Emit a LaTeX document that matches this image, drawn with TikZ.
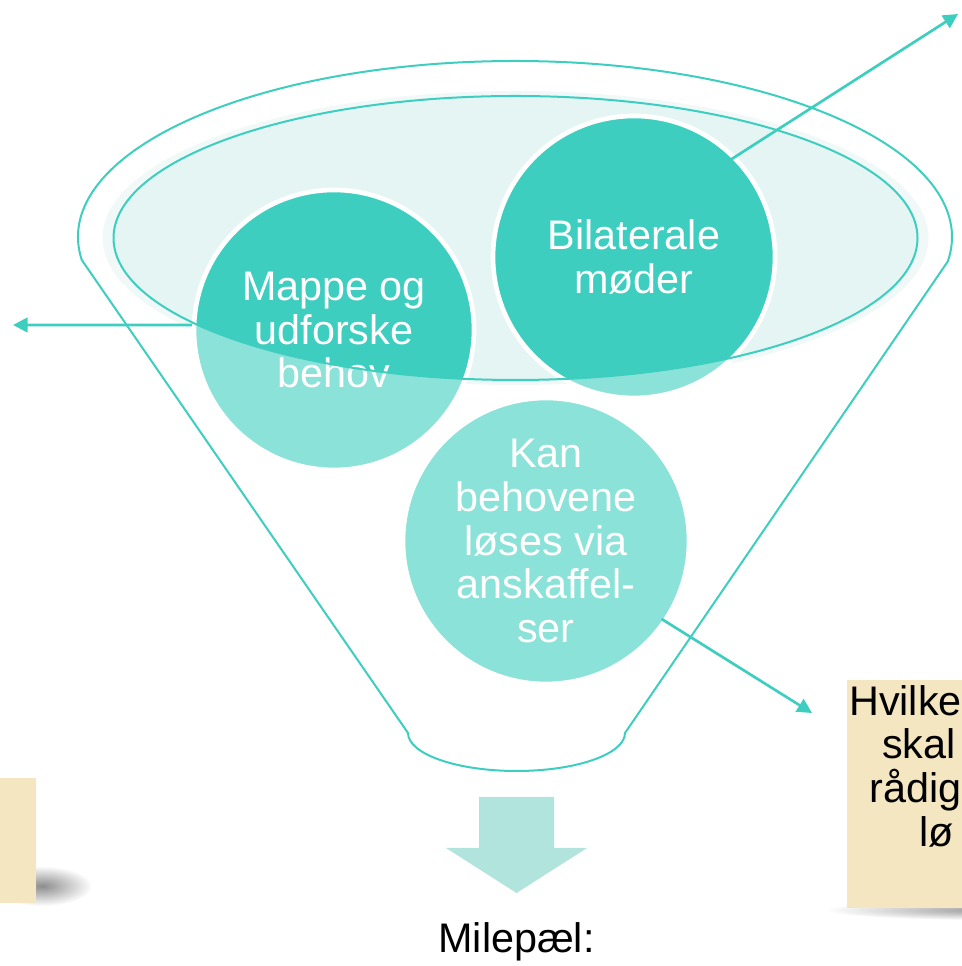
\documentclass[tikz,border=0pt]{standalone}
\usepackage{fontspec}
\setmainfont{Liberation Sans}
\usetikzlibrary{positioning}
\usetikzlibrary{calc}
\usetikzlibrary{arrows.meta}

\definecolor{tealdark}{RGB}{62,206,191}
\definecolor{teallight}{RGB}{139,226,216}
\definecolor{rimfill}{RGB}{228,245,243}
\definecolor{rimglow}{RGB}{240,249,248}
\definecolor{milefill}{RGB}{176,228,221}
\definecolor{notefill}{RGB}{243,230,192}

\begin{document}
\begin{tikzpicture}[x=0.75pt, y=0.75pt,
	bubble/.style={circle, fill=teallight, draw=white, line width=3.5pt, minimum size=210pt, inner sep=0pt, text=white, align=center, font=\fontsize{31}{32.8}\selectfont, path picture={\fill[tealdark] (eye) ellipse [x radius=402, y radius=142];}},
	link/.style={draw=tealdark, line width=2pt, -{Triangle[length=11pt, width=11pt]}},
	rim/.style={draw=tealdark, line width=1.5pt},
	note/.style={rectangle, fill=notefill, inner sep=0pt},
	notetext/.style={font=\fontsize{31}{32.8}\selectfont, align=left, inner sep=0pt}]
	\useasboundingbox (0,0) rectangle (961,966);
	% funnel mouth
	\coordinate (eye) at (515.5,728);
	\fill[rimglow] (eye) ellipse [x radius=413, y radius=147];
	\fill[rimfill] (eye) ellipse [x radius=402, y radius=142];
	\node[bubble] (mappe) at (334,636) {Mappe og\\udforske\\behov};
	\node[bubble, minimum size=211.5pt] (bilat) at (634,709) {Bilaterale\\møder};
	\node[bubble, minimum size=214.5pt] (kan) at (546,425) {Kan\\behovene\\løses via\\anskaffel-\\ser};
	\draw[rim] (eye) ellipse [x radius=402, y radius=142];
	\draw[rim] (515,729) ++(187.5:437 and 176) arc [start angle=187.5, end angle=-8, x radius=437, y radius=176] -- (625,233) arc [start angle=0, end angle=-180, x radius=108.5, y radius=38] -- cycle;
	% arrows out of the funnel
	\coordinate (toleft) at (13,641);
	\coordinate (totop) at (958,952);
	\coordinate (toright) at (812,253);
	\draw[link] (mappe.178) -- (toleft);
	\draw[link] ($(bilat)!0.9!(bilat.46)$) -- (totop);
	\draw[link] ($(kan)!0.96!(kan.-34)$) -- (toright);
	% milestone
	\fill[milefill] (479,169) -- (554,169) -- (554,118) -- (587,118) -- (516.5,73) -- (446,118) -- (479,118) -- cycle;
	\node[font=\fontsize{31}{32.8}\selectfont, anchor=base, inner sep=0pt] (milestone) at (516.5,13) {Milepæl:};
	% notes
	\shade[inner color=black!45, outer color=white] (42,80) ellipse [x radius=50, y radius=20];
	\node[note, minimum width=102pt, minimum height=93.75pt] (leftnote) at (-32,125.5) {};
	\shade[inner color=black!40, outer color=white] (990,56) ellipse [x radius=165, y radius=10];
	\node[note, minimum width=190pt, minimum height=171pt] (rightnote) at (973.5,172) {};
	\node[notetext, anchor=north west] (question) at (849,281) {Hvilke\\\hspace*{24.6pt}skal\\\hspace*{15.2pt}rådig\\\hspace*{52.7pt}lø};
\end{tikzpicture}
\end{document}
